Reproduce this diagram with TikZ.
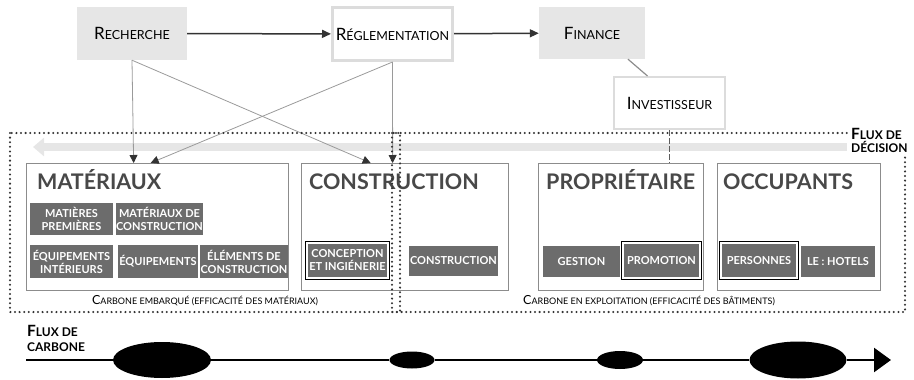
\documentclass[tikz,border=0pt]{standalone}
\usepackage{fontspec}
\setmainfont{Lato}
\usepackage{tikz}
\usetikzlibrary{arrows.meta,positioning,shapes.geometric,calc}
\definecolor{w_lightgray}{HTML}{E6E6E6}
\definecolor{w_frame}{HTML}{DCDCDC}
\definecolor{w_boxline}{HTML}{8C8C8C}
\definecolor{w_item}{HTML}{6C6C6C}
\definecolor{w_title}{HTML}{484848}
\definecolor{w_dark}{HTML}{333333}
\definecolor{w_thin}{HTML}{9A9A9A}

\newcommand{\toplabel}[2]{{\fontsize{17}{16}\selectfont #1}{\fontsize{12.5}{16}\selectfont #2}}
\newcommand{\notelabel}[2]{{\fontsize{12.5}{12}\selectfont #1}{\fontsize{9}{12}\selectfont #2}}
\newcommand{\flowlabel}[2]{{\fontsize{15.5}{16}\selectfont #1}{\fontsize{12}{16}\selectfont #2}}

\tikzstyle{topgray} = [rectangle, fill=w_lightgray, minimum width=110pt, minimum height=53pt]
\tikzstyle{topwhite} = [rectangle, draw=w_frame, line width=3pt, fill=white, minimum width=116pt, minimum height=53pt]
\tikzstyle{group} = [rectangle, draw=w_boxline, line width=1.3pt, fill=white, anchor=north west, minimum height=127pt]
\tikzstyle{grouptitle} = [anchor=base west, inner sep=0pt, text=w_title, font=\fontsize{21.5}{21}\selectfont\bfseries]
\tikzstyle{item} = [rectangle, fill=w_item, text=white, align=center, inner sep=0.5pt, minimum height=32pt, font=\fontsize{11}{13}\selectfont\bfseries]
\tikzstyle{framed} = [preaction={draw=black, line width=4pt}, draw=white, line width=1.6pt, minimum height=35pt]
\tikzstyle{blob} = [ellipse, fill=black, inner sep=0pt]
\tikzstyle{zone} = [draw=w_dark, line width=2.3pt, line cap=round, dash pattern=on 0pt off 4.6pt]
\tikzstyle{toparrow} = [draw=w_dark, line width=1.5pt, -{Triangle[length=9pt,width=8pt]}]
\tikzstyle{thinarrow} = [draw=w_thin, line width=0.8pt, -{Triangle[length=8pt,width=8pt,color=w_dark]}]
\tikzstyle{carbonline} = [draw=black, line width=2.6pt]

\begin{document}
\begin{tikzpicture}[x=1pt, y=-1pt]
	\useasboundingbox (0,0) rectangle (914,380);

	% acteurs en amont
	\node[topgray] (recherche) at (132,33.5) {\toplabel{R}{ECHERCHE}};
	\node[topwhite] (reglementation) at (392.5,34) {\toplabel{R}{ÉGLEMENTATION}};
	\node[topgray, minimum width=106pt, minimum height=52pt] (finance) at (592,33) {\toplabel{F}{INANCE}};
	\node[topwhite, line width=2pt, minimum width=111pt, minimum height=52pt] (investisseur) at (669.5,103) {\toplabel{I}{NVESTISSEUR}};

	\draw[toparrow] (recherche) -- (reglementation);
	\draw[toparrow] (reglementation) -- (finance);
	\draw[draw=w_boxline, line width=1.2pt] ([xshift=36pt]finance.south) -- ([xshift=-22pt]investisseur.north);

	\coordinate (decision_start) at (847,147);
	\coordinate (decision_end) at (33,147);
	\draw[line width=8pt, w_lightgray, -{Triangle[length=11pt,width=18pt]}] (decision_start) -- (decision_end);

	% acteurs de la chaine
	\node[group, minimum width=262pt] (materiaux) at (26,163) {};
	\node[grouptitle] (materiaux_t) at ([xshift=11pt,yshift=-26pt]materiaux.north west) {MATÉRIAUX};
	\node[group, minimum width=207pt] (construction) at (301,163) {};
	\node[grouptitle] (construction_t) at ([xshift=8pt,yshift=-26pt]construction.north west) {CONSTRUCTION};
	\node[group, minimum width=165pt] (proprietaire) at (538,163) {};
	\node[grouptitle] (proprietaire_t) at ([xshift=8pt,yshift=-26pt]proprietaire.north west) {PROPRIÉTAIRE};
	\node[group, minimum width=163pt] (occupants) at (717,163) {};
	\node[grouptitle] (occupants_t) at ([xshift=6pt,yshift=-26pt]occupants.north west) {OCCUPANTS};

	\node[item, minimum width=83pt] (matieres) at (71.5,219) {MATIÈRES\\PREMIÈRES};
	\node[item, minimum width=83pt] (materiaux_c) at (159.5,219) {MATÉRIAUX DE\\CONSTRUCTION};
	\node[item, minimum width=83pt, minimum height=33pt] (equip_int) at (71.5,261.5) {ÉQUIPEMENTS\\INTÉRIEURS};
	\node[item, minimum width=80pt, minimum height=33pt] (equip) at (158,261.5) {ÉQUIPEMENTS};
	\node[item, minimum width=82pt, minimum height=33pt] (elements) at (244,261.5) {ÉLÉMENTS DE\\CONSTRUCTION};
	\node[item, framed, minimum width=81pt] (conception) at (347.5,260.5) {CONCEPTION\\ET INGIÉNERIE};
	\node[item, minimum width=89pt, minimum height=30pt] (chantier) at (453.5,261) {CONSTRUCTION};
	\node[item, minimum width=77pt, minimum height=31pt] (gestion) at (581.5,261.5) {GESTION};
	\node[item, framed, minimum width=77pt] (promotion) at (661.5,260.5) {PROMOTION};
	\node[item, framed, minimum width=76pt] (personnes) at (759,260.5) {PERSONNES};
	\node[item, minimum width=74pt, minimum height=31pt] (hotels) at (838,261.5) {LE : HOTELS};

	\draw[thinarrow] (recherche.south) -- ([xshift=-24pt]materiaux.north);
	\draw[thinarrow] (recherche.south) -- ([xshift=-34.5pt]construction.north);
	\draw[thinarrow] (reglementation.south) -- ([xshift=-12.5pt]construction.north);
	\draw[thinarrow] (reglementation.south) -- ([xshift=-7pt]materiaux.north);
	\draw[draw=w_dark!80, line width=1.6pt, dash pattern=on 6pt off 2pt] (investisseur.south) -- (investisseur.south |- proprietaire.north);

	% zones de carbone
	\draw[zone] (10,133) rectangle (400,312);
	\draw[zone] (392,133) rectangle (905,312);
	\node[anchor=base, inner sep=0pt] (embarque) at (205,304) {\notelabel{C}{ARBONE EMBARQUÉ (EFFICACITÉ DES MATÉRIAUX)}};
	\node[anchor=base, inner sep=0pt] (exploitation) at (649,304) {\notelabel{C}{ARBONE EN EXPLOITATION (EFFICACITÉ DES BÂTIMENTS)}};
	\node[anchor=north west, fill=white, inner sep=1pt, align=left, font=\bfseries] (flux_decision) at (850,127) {\flowlabel{F}{LUX DE}\\[1pt]\flowlabel{}{DÉCISION}};

	% flux de carbone
	\node[anchor=north west, inner sep=0pt, align=left, font=\bfseries] (flux_carbone) at (27,325) {\flowlabel{F}{LUX DE}\\[3pt]\flowlabel{}{CARBONE}};
	\coordinate (carbone_start) at (26,360);
	\coordinate (carbone_end) at (891,360);
	\node[blob, minimum width=98pt, minimum height=36pt] (blob1) at (162,360) {};
	\node[blob, minimum width=45pt, minimum height=17pt] (blob2) at (412,360) {};
	\node[blob, minimum width=46pt, minimum height=18pt] (blob3) at (620,360) {};
	\node[blob, minimum width=97pt, minimum height=37pt] (blob4) at (798,360) {};
	\draw[carbonline] (carbone_start) -- (blob1) -- (blob2) -- (blob3) -- (blob4);
	\draw[carbonline, -{Triangle[length=17pt,width=24pt]}] (blob4) -- (carbone_end);
\end{tikzpicture}
\end{document}
